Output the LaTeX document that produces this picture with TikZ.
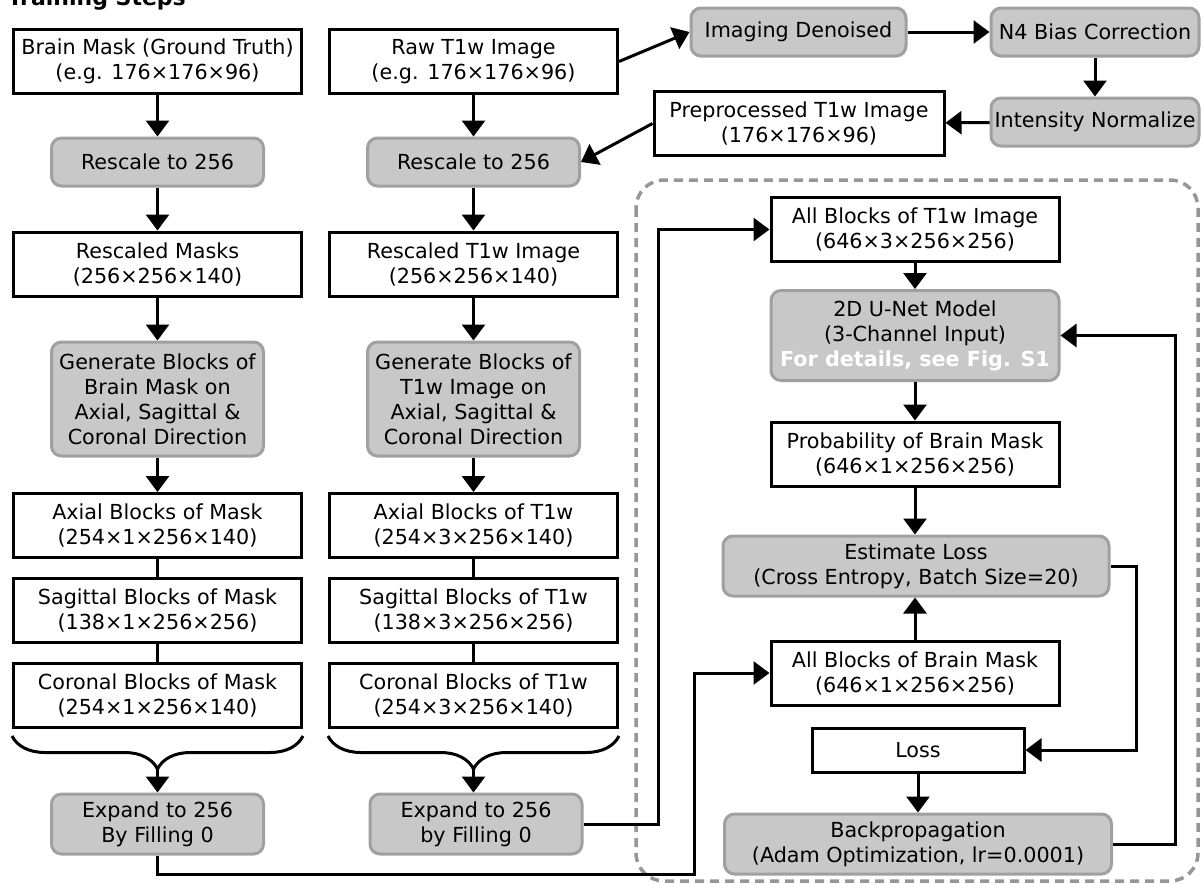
\documentclass[tikz,border=0pt]{standalone}
\usepackage{fontspec}
\setmainfont{DejaVu Sans}
\usetikzlibrary{arrows.meta,decorations.pathreplacing}
\definecolor{boxfill}{RGB}{200,200,200}
\definecolor{boxedge}{RGB}{160,160,160}
\definecolor{loopedge}{RGB}{150,150,150}

\begin{document}
\begin{tikzpicture}[x=1pt,y=-1pt,
  font=\fontsize{20.7}{25}\selectfont,
  every node/.style={inner sep=0pt,align=center},
  wbox/.style={draw=black,line width=3pt,fill=white,minimum width=288pt,minimum height=64pt},
  gbox/.style={draw=boxedge,line width=3pt,fill=boxfill,rounded corners=10pt,minimum width=212pt,minimum height=48pt},
  conn/.style={line width=3pt,-{Triangle[length=16pt,width=23pt]}},
  link/.style={line width=3pt}]
\useasboundingbox (0,0) rectangle (1203,884);
\node[font=\fontsize{22}{26}\selectfont\bfseries,anchor=base east] (title) at (186,5) {Training Steps};
% training loop
\draw[loopedge,line width=3.5pt,dash pattern=on 9pt off 6pt,rounded corners=28pt] (636,180) rectangle (1198,881);
% mask column
\node[wbox] (mask) at (157.5,61.5) {Brain Mask (Ground Truth)\\(e.g. 176×176×96)};
\node[gbox] (rsm) at (157.5,162) {Rescale to 256};
\node[wbox] (rsdm) at (157.5,264) {Rescaled Masks\\(256×256×140)};
\node[gbox,minimum height=114pt] (genm) at (157.5,399) {Generate Blocks of\\Brain Mask on\\Axial, Sagittal \&\\Coronal Direction};
\node[wbox] (axm) at (157.5,525.5) {Axial Blocks of Mask\\(254×1×256×140)};
\node[wbox] (sagm) at (157.5,610.5) {Sagittal Blocks of Mask\\(138×1×256×256)};
\node[wbox] (corm) at (157.5,695.5) {Coronal Blocks of Mask\\(254×1×256×140)};
\node[gbox,minimum height=60pt] (expm) at (157.5,824) {Expand to 256\\By Filling 0};
% T1w column
\node[wbox] (raw) at (473.5,61.5) {Raw T1w Image\\(e.g. 176×176×96)};
\node[gbox] (rst) at (473.5,162) {Rescale to 256};
\node[wbox] (rsdt) at (473.5,264) {Rescaled T1w Image\\(256×256×140)};
\node[gbox,minimum height=114pt] (gent) at (473.5,399) {Generate Blocks of\\T1w Image on\\Axial, Sagittal \&\\Coronal Direction};
\node[wbox] (axt) at (473.5,525.5) {Axial Blocks of T1w\\(254×3×256×140)};
\node[wbox] (sagt) at (473.5,610.5) {Sagittal Blocks of T1w\\(138×3×256×256)};
\node[wbox] (cort) at (473.5,695.5) {Coronal Blocks of T1w\\(254×3×256×140)};
\node[gbox,minimum height=60pt] (expt) at (476,824) {Expand to 256\\by Filling 0};
% preprocessing
\node[gbox,minimum width=215pt] (den) at (798.5,32) {Imaging Denoised};
\node[gbox,minimum width=208pt] (n4) at (1095,32) {N4 Bias Correction};
\node[gbox,minimum width=208pt] (inorm) at (1095,122) {Intensity Normalize};
\node[wbox,minimum width=290pt] (pre) at (799,123.5) {Preprocessed T1w Image\\(176×176×96)};
% network
\node[wbox] (allt) at (915,229.5) {All Blocks of T1w Image\\(646×3×256×256)};
\node[gbox,minimum width=288pt,minimum height=90pt] (unet) at (915,335.5) {2D U-Net Model\\(3-Channel Input)\\\textcolor{white}{\bfseries For details, see Fig. S1}};
\node[wbox] (prob) at (915,454) {Probability of Brain Mask\\(646×1×256×256)};
\node[gbox,minimum width=386pt,minimum height=60pt] (est) at (916,566) {Estimate Loss\\(Cross Entropy, Batch Size=20)};
\node[wbox] (allm) at (915,673) {All Blocks of Brain Mask\\(646×1×256×256)};
\node[wbox,minimum width=212pt,minimum height=44pt] (loss) at (918,750) {Loss};
\node[gbox,minimum width=387pt,minimum height=60pt] (back) at (918,844) {Backpropagation\\(Adam Optimization, lr=0.0001)};
% bends
\coordinate (mtip) at (157.5,766);
\coordinate (ttip) at (473.5,766);
\coordinate (mbend) at (694,874);
\coordinate (tbend) at (658,824);
\coordinate (lbend) at (1136,750);
\coordinate (ubend) at (1175,844);
% arrows
\draw[conn] (mask) -- (rsm);
\draw[conn] (rsm) -- (rsdm);
\draw[conn] (rsdm) -- (genm);
\draw[conn] (genm) -- (axm);
\draw[link] (axm) -- (sagm);
\draw[link] (sagm) -- (corm);
\draw[conn] (raw) -- (rst);
\draw[conn] (rst) -- (rsdt);
\draw[conn] (rsdt) -- (gent);
\draw[conn] (gent) -- (axt);
\draw[link] (axt) -- (sagt);
\draw[link] (sagt) -- (cort);
\draw[link,decorate,decoration={brace,mirror,amplitude=33pt}] ([yshift=-7pt]corm.south west) -- ([yshift=-7pt]corm.south east);
\draw[link,decorate,decoration={brace,mirror,amplitude=33pt}] ([yshift=-7pt]cort.south west) -- ([yshift=-7pt]cort.south east);
\draw[conn] (mtip) -- (expm.north);
\draw[conn] (ttip) -- (ttip |- expt.north);
\draw[conn] (raw.east) -- (den.west);
\draw[conn] (den) -- (n4);
\draw[conn] (n4) -- (inorm);
\draw[conn] (inorm) -- (pre);
\draw[conn] (pre.west) -- (rst.east);
\draw[conn] (expm.south) |- (mbend) |- (allm.west);
\draw[conn] (expt.east) -- (tbend) |- (allt.west);
\draw[conn] (allt) -- (unet);
\draw[conn] (unet) -- (prob);
\draw[conn] (prob.south) -- (prob.south |- est.north);
\draw[conn] (allm.north) -- (allm.north |- est.south);
\draw[conn] (est.east) -| (lbend) -- (loss.east);
\draw[conn] (loss) -- (back);
\draw[conn] (back.east) -- (ubend) |- (unet.east);
\end{tikzpicture}
\end{document}
